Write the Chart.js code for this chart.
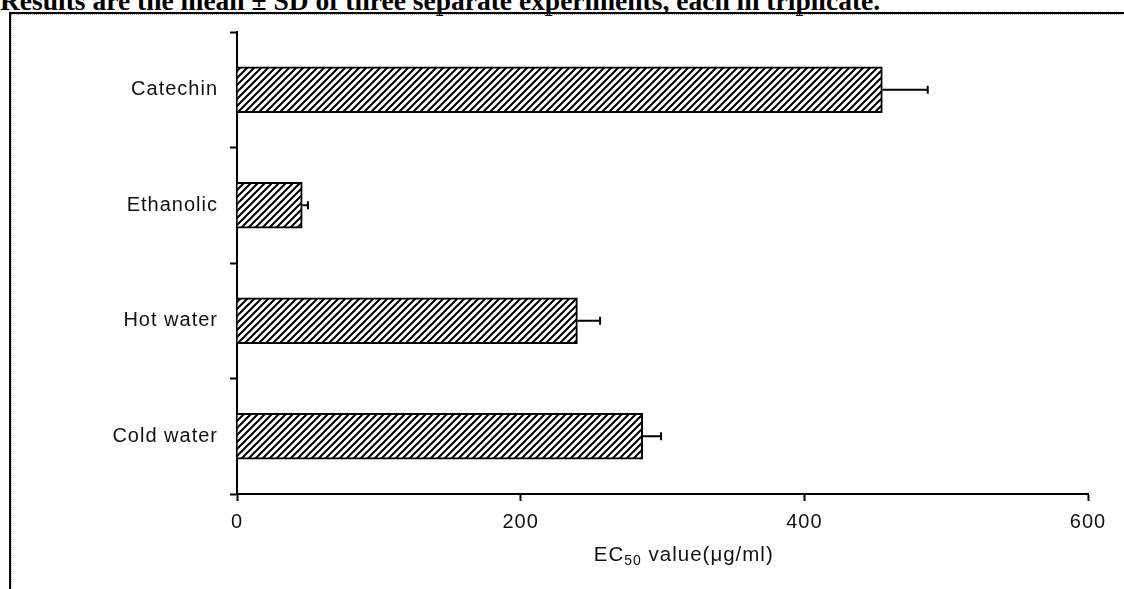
<!DOCTYPE html>
<html>
<head>
    <title>EC50 values</title>
    <script src="https://cdn.jsdelivr.net/npm/chart.js@4.4.5/dist/chart.umd.min.js"></script>
    <style>
        body { margin: 0; width: 1124px; height: 589px; overflow: hidden; background: #fff; position: relative; }
        #caption { position: absolute; left: 0; top: -13px; font: bold 27.5px "Liberation Serif", "Times New Roman", serif; line-height: 27px; white-space: nowrap; color: #000; }
        #frame { position: absolute; left: 9px; top: 12px; width: 1200px; height: 700px; border-left: 2px solid #000; border-top: 2px solid #000; }
        #frame .inner { position: absolute; left: 0; top: 0; right: 0; bottom: 0; border-left: 1px dotted #aaa; border-top: 1px dotted #aaa; }
        #wrap { position: absolute; left: 0; top: 0; width: 1124px; height: 589px; }
    </style>
</head>
<body>
    <div id="caption">Results are the mean ± SD of three separate experiments, each in triplicate.</div>
    <div id="frame"><div class="inner"></div></div>
    <div id="wrap"><canvas id="ecChart"></canvas></div>

    <script>
        // data
        const categories = ['Catechin', 'Ethanolic', 'Hot water', 'Cold water'];
        const ec50Values = [455, 46, 240, 286];
        const ec50SD = [32, 4, 16, 13];
        const xTicks = [0, 200, 400, 600];
        const axisTitleMain = 'EC';
        const axisTitleSub = '50';
        const axisTitleRest = ' value(\u03bcg/ml)';

        const labelFont = '"Liberation Sans", Arial, Helvetica, sans-serif';
        const letterGap = '1px';

        // diagonal hatch pattern like the original
        function makeHatch() {
            const c = document.createElement('canvas');
            c.width = 7; c.height = 7;
            const g = c.getContext('2d');
            g.fillStyle = '#fff';
            g.fillRect(0, 0, 7, 7);
            g.strokeStyle = '#000';
            g.lineWidth = 2;
            g.beginPath();
            g.moveTo(-1, 8); g.lineTo(8, -1);
            g.moveTo(-2, 2); g.lineTo(2, -2);
            g.moveTo(5, 9); g.lineTo(9, 5);
            g.stroke();
            return g.createPattern(c, 'repeat');
        }

        const spacing = {
            id: 'spacing',
            beforeLayout(chart) { chart.ctx.letterSpacing = letterGap; },
            beforeDraw(chart) { chart.ctx.letterSpacing = letterGap; }
        };

        // SD whiskers (right side only, as in the figure)
        const errorBars = {
            id: 'errorBars',
            afterDatasetsDraw(chart) {
                const ctx = chart.ctx;
                const xScale = chart.scales.x;
                const meta = chart.getDatasetMeta(0);
                ctx.save();
                ctx.strokeStyle = '#000';
                ctx.lineWidth = 2;
                meta.data.forEach((bar, i) => {
                    const xEnd = xScale.getPixelForValue(ec50Values[i] + ec50SD[i]);
                    ctx.beginPath();
                    ctx.moveTo(bar.x, bar.y);
                    ctx.lineTo(xEnd, bar.y);
                    ctx.moveTo(xEnd, bar.y - 4);
                    ctx.lineTo(xEnd, bar.y + 4);
                    ctx.stroke();
                });
                ctx.restore();
            }
        };

        // x axis title with subscript
        const axisTitle = {
            id: 'axisTitle',
            afterDraw(chart) {
                const ctx = chart.ctx;
                const a = chart.chartArea;
                ctx.save();
                ctx.letterSpacing = letterGap;
                ctx.fillStyle = '#111';
                ctx.textBaseline = 'alphabetic';
                const big = '20.5px ' + labelFont;
                const small = '14px ' + labelFont;
                ctx.font = big;
                const w1 = ctx.measureText(axisTitleMain).width;
                const w3 = ctx.measureText(axisTitleRest).width;
                ctx.font = small;
                const w2 = ctx.measureText(axisTitleSub).width;
                const total = w1 + w2 + w3;
                let x = a.left + (a.right - a.left) * 0.525 - total / 2;
                const y = 561;
                ctx.font = big;
                ctx.fillText(axisTitleMain, x, y);
                x += w1;
                ctx.font = small;
                ctx.fillText(axisTitleSub, x, y + 4);
                x += w2;
                ctx.font = big;
                ctx.fillText(axisTitleRest, x, y);
                ctx.restore();
            }
        };

        new Chart(document.getElementById('ecChart'), {
            type: 'bar',
            data: {
                labels: categories,
                datasets: [{
                    data: ec50Values,
                    backgroundColor: makeHatch(),
                    borderColor: '#000',
                    borderWidth: 2,
                    barThickness: 46
                }]
            },
            options: {
                indexAxis: 'y',
                responsive: true,
                maintainAspectRatio: false,
                animation: false,
                layout: { padding: { left: 0, top: 32, right: 36, bottom: 0 } },
                plugins: {
                    legend: { display: false },
                    tooltip: { enabled: false }
                },
                scales: {
                    x: {
                        min: 0,
                        max: 600,
                        afterBuildTicks(scale) { scale.ticks = xTicks.map(v => ({ value: v })); },
                        afterFit(scale) { scale.height = 95; },
                        border: { display: true, color: '#000', width: 2 },
                        grid: { drawOnChartArea: false, drawTicks: true, tickLength: 7, tickColor: '#000', tickWidth: 2 },
                        ticks: { color: '#111', padding: 9, font: { family: labelFont, size: 20 } }
                    },
                    y: {
                        afterFit(scale) { scale.width = 237; },
                        border: { display: true, color: '#000', width: 2 },
                        grid: { offset: true, drawOnChartArea: false, drawTicks: true, tickLength: 7, tickColor: '#000', tickWidth: 2 },
                        ticks: { color: '#111', padding: 12, font: { family: labelFont, size: 20 } }
                    }
                }
            },
            plugins: [spacing, errorBars, axisTitle]
        });
    </script>
</body>
</html>
